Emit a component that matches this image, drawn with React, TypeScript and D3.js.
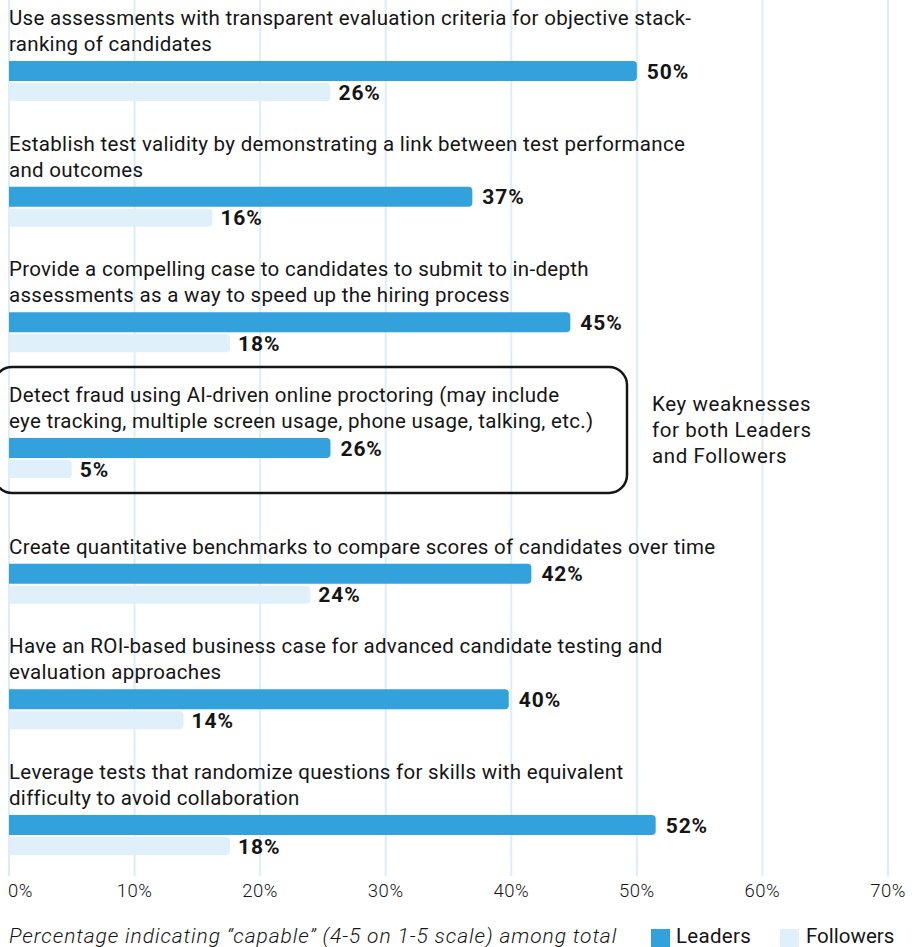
import React from "react";
import * as d3 from "d3";

const categories: string[][] = [
  ["Use assessments with transparent evaluation criteria for objective stack-", "ranking of candidates"],
  ["Establish test validity by demonstrating a link between test performance", "and outcomes"],
  ["Provide a compelling case to candidates to submit to in-depth", "assessments as a way to speed up the hiring process"],
  ["Detect fraud using AI-driven online proctoring (may include", "eye tracking, multiple screen usage, phone usage, talking, etc.)"],
  ["Create quantitative benchmarks to compare scores of candidates over time"],
  ["Have an ROI-based business case for advanced candidate testing and", "evaluation approaches"],
  ["Leverage tests that randomize questions for skills with equivalent", "difficulty to avoid collaboration"],
];
const leaders: number[] = [50, 36.9, 44.7, 25.6, 41.6, 39.8, 51.5];
const followers: number[] = [25.6, 16.2, 17.6, 5.0, 24.0, 13.9, 17.6];
const ticks: number[] = [0, 10, 20, 30, 40, 50, 60, 70];
const highlightIndex = 3;
const annotation: string[] = ["Key weaknesses", "for both Leaders", "and Followers"];
const footnote = "Percentage indicating \u201ccapable\u201d (4-5 on 1-5 scale) among total";
const seriesNames = ["Leaders", "Followers"];

const W = 912;
const H = 947;
const LEAD = "#33a1dc";
const FOLL = "#dff0fa";
const GRID = "#dcedf9";
const INK = "#151515";
const FONT = "Roboto, 'Open Sans', sans-serif";

function barPath(x0: number, x1: number, y: number, h: number, r: number) {
  const rr = Math.min(r, (x1 - x0) / 2, h / 2);
  return `M${x0},${y}H${x1 - rr}A${rr},${rr} 0 0 1 ${x1},${y + rr}V${y + h - rr}A${rr},${rr} 0 0 1 ${x1 - rr},${y + h}H${x0}Z`;
}

export default function App() {
  const x = d3.scaleLinear().domain([0, 70]).range([9, 888]);
  const groupY = d3.scaleLinear().domain([0, 6]).range([61, 815]);
  const leadH = 20;
  const follH = 18;
  const gap = 2;
  const txt = { fontSize: 20.5, letterSpacing: 0.3, fill: INK };
  const val = { fontSize: 21, fontWeight: 700, letterSpacing: 0.9, fill: INK };

  return (
    <svg width={W} height={H} style={{ position: "absolute", left: 0, top: 0, background: "#fff" }}
      fontFamily={FONT}>
      {ticks.map((t) => (
        <line key={t} x1={x(t)} x2={x(t)} y1={0} y2={876} stroke={GRID} strokeWidth={2} />
      ))}
      {categories.map((lines, i) => {
        const y0 = groupY(i);
        const n = lines.length;
        return (
          <g key={i}>
            {lines.map((ln, j) => (
              <text key={j} x={9} y={y0 - 17 - (n - 1 - j) * 26 + 7} {...txt}>
                {ln}
              </text>
            ))}
            <path d={barPath(x(0), x(leaders[i]), y0, leadH, 4)} fill={LEAD} />
            <path d={barPath(x(0), x(followers[i]), y0 + leadH + gap, follH, 4)} fill={FOLL} />
            <text x={x(leaders[i]) + 10} y={y0 + leadH / 2 + 7.5} {...val}>
              {Math.round(leaders[i])}%
            </text>
            <text x={x(followers[i]) + 8} y={y0 + leadH + gap + follH / 2 + 7.5} {...val}>
              {Math.round(followers[i])}%
            </text>
          </g>
        );
      })}
      {(() => {
        const y0 = groupY(highlightIndex);
        return (
          <g>
            <rect x={-6} y={y0 - 71} width={633} height={126} rx={18} fill="none" stroke={INK} strokeWidth={2.5} />
            {annotation.map((a, j) => (
              <text key={j} x={652} y={y0 - 34 + j * 26 + 7} fontSize={20.5} letterSpacing={0.6} fill={INK}>{a}</text>
            ))}
          </g>
        );
      })()}
      {ticks.map((t, i) => (
        <text key={t} x={i === 0 ? x(t) - 1 : x(t)} y={897} fontSize={18.5} fontWeight={300} letterSpacing={0.5}
          textAnchor={i === 0 ? "start" : "middle"} fill={INK}>
          {t}%
        </text>
      ))}
      <text x={9} y={943} fontSize={21} fontStyle="italic" fontWeight={300} letterSpacing={0.9} fill={INK}>{footnote}</text>
      <rect x={651} y={929} width={19} height={19} fill={LEAD} />
      <text x={676} y={943} fontSize={20.5} letterSpacing={0.3} fill={INK}>{seriesNames[0]}</text>
      <rect x={780} y={929} width={19} height={19} fill={FOLL} />
      <text x={806} y={943} fontSize={20.5} letterSpacing={0} fill={INK}>{seriesNames[1]}</text>
    </svg>
  );
}
